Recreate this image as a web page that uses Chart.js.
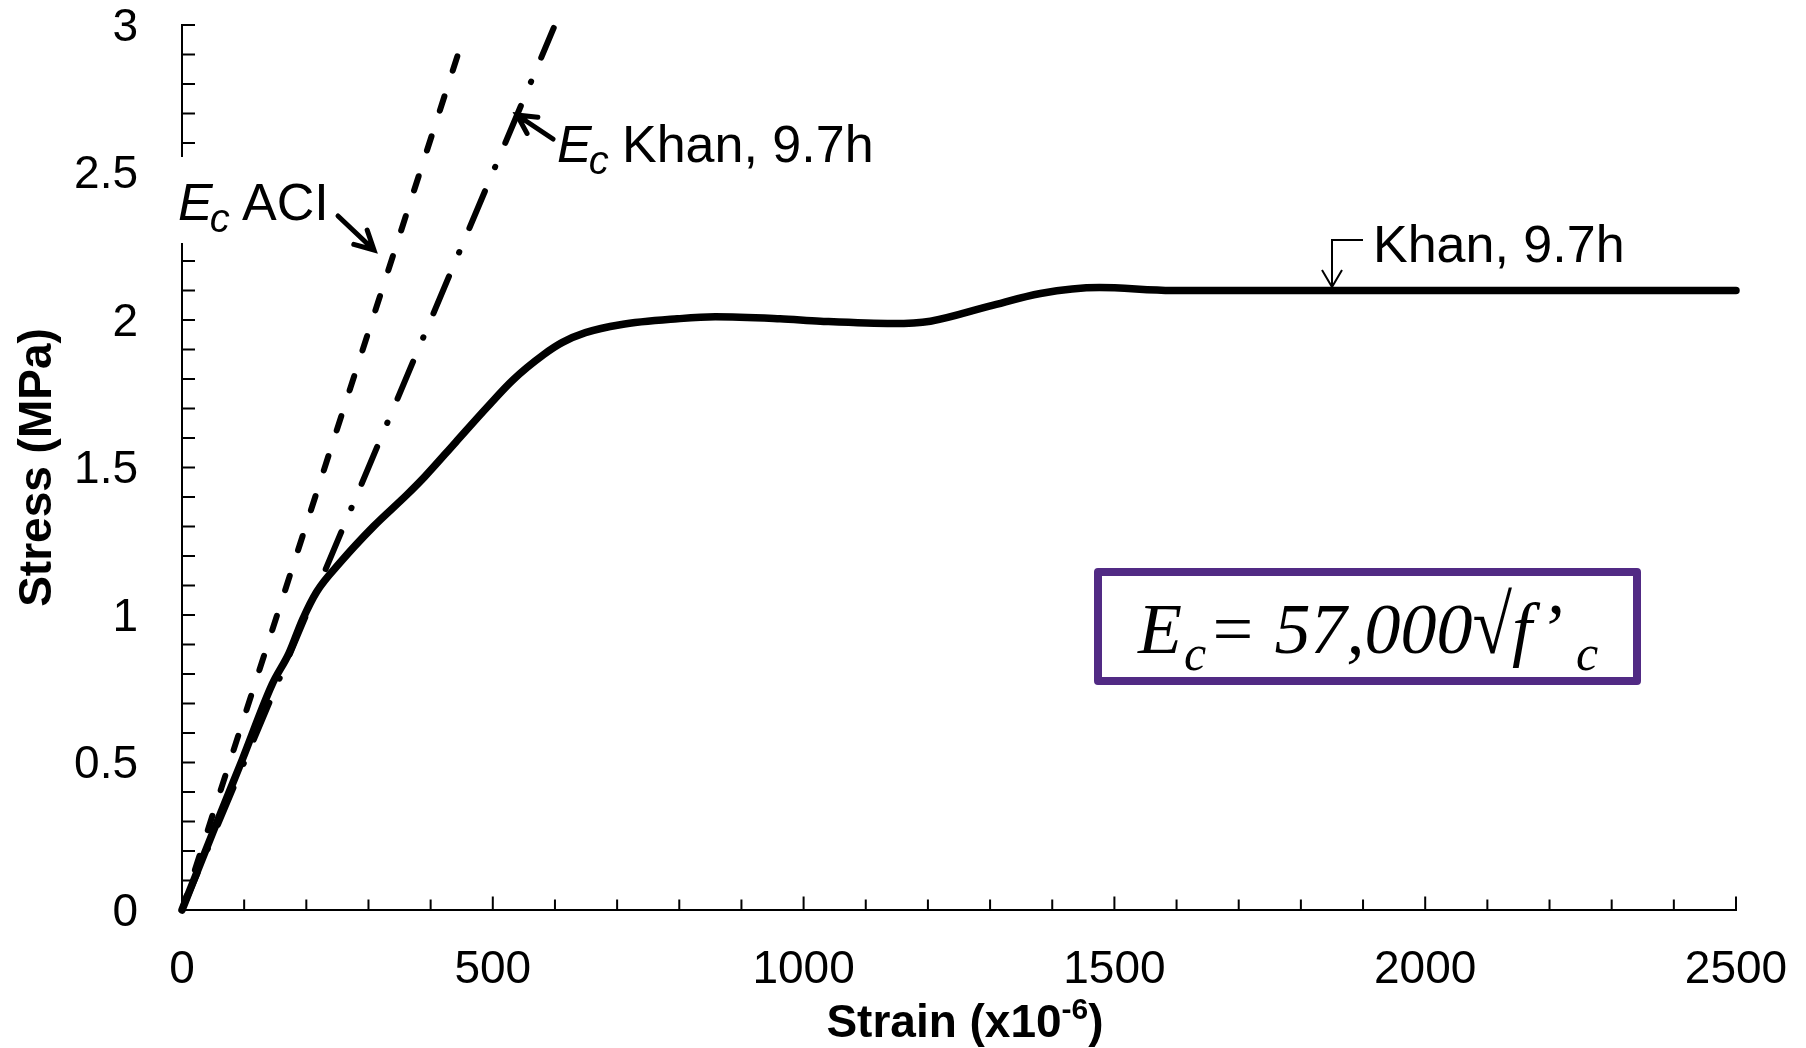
<!DOCTYPE html>
<html>
<head>
<meta charset="utf-8">
<script src="https://cdn.jsdelivr.net/npm/chart.js@4.4.1/dist/chart.umd.min.js"></script>
<style>
  html, body { margin: 0; padding: 0; background: #fff; }
  #wrap { width: 1806px; height: 1048px; position: relative; }
</style>
</head>
<body>
<div id="wrap"><canvas id="stressChart"></canvas></div>
<script>
// ================== Data ==================
const khanStrain = [0, 50, 97, 145, 172, 194, 217, 254, 308, 362, 391, 440, 489, 532, 582, 612, 649, 705, 797, 858, 962, 1027, 1144, 1204, 1299, 1381, 1476, 1593, 2500];
const khanStress = [0, 0.265, 0.51, 0.765, 0.87, 0.985, 1.08, 1.177, 1.3, 1.408, 1.47, 1.585, 1.7, 1.796, 1.883, 1.924, 1.957, 1.984, 2.004, 2.011, 2.004, 1.996, 1.988, 1.996, 2.047, 2.09, 2.11, 2.1, 2.1];

const aciStrain = [0, 450];
const aciStress = [0, 2.94];

const ecKhanStrain = [0, 598];
const ecKhanStress = [0, 2.99];

const xTickLabels = [0, 500, 1000, 1500, 2000, 2500];
const yTickLabels = [0, 0.5, 1, 1.5, 2, 2.5, 3];

const SANS = "'Liberation Sans', Arial, sans-serif";
const SERIF = "'Liberation Serif', 'Times New Roman', serif";

// ================== Helpers ==================
const toPoints = (xs, ys) => xs.map((x, i) => ({ x, y: ys[i] }));
const isLabel = (list, v) => list.some((t) => Math.abs(t - v) < 1e-6);

function arrow(ctx, fromX, fromY, tipX, tipY, barb, width) {
  const ang = Math.atan2(tipY - fromY, tipX - fromX);
  const spread = Math.PI / 6.5;
  ctx.lineWidth = width;
  ctx.beginPath();
  ctx.moveTo(fromX, fromY);
  ctx.lineTo(tipX, tipY);
  ctx.moveTo(tipX - barb * Math.cos(ang - spread), tipY - barb * Math.sin(ang - spread));
  ctx.lineTo(tipX, tipY);
  ctx.lineTo(tipX - barb * Math.cos(ang + spread), tipY - barb * Math.sin(ang + spread));
  ctx.stroke();
}

// draws "E" + subscript "c"
function ecLabel(ctx, x, baseline) {
  ctx.font = `italic 52px ${SANS}`;
  ctx.fillText("E", x, baseline);
  const w = ctx.measureText("E").width;
  ctx.font = `italic 40px ${SANS}`;
  ctx.fillText("c", x + w - 3, baseline + 12);
}

// ================== Plugins ==================
const insideTicks = {
  id: "insideTicks",
  beforeDatasetsDraw(chart) {
    const { ctx, chartArea, scales } = chart;
    ctx.save();
    ctx.strokeStyle = "#000";
    ctx.lineWidth = 2;
    ctx.beginPath();
    scales.x.ticks.forEach((t) => {
      const px = scales.x.getPixelForValue(t.value);
      const len = isLabel(xTickLabels, t.value) ? 13.5 : 10.5;
      ctx.moveTo(px, chartArea.bottom);
      ctx.lineTo(px, chartArea.bottom - len);
    });
    scales.y.ticks.forEach((t) => {
      const py = scales.y.getPixelForValue(t.value);
      ctx.moveTo(chartArea.left, py);
      ctx.lineTo(chartArea.left + 13, py);
    });
    ctx.stroke();
    ctx.restore();
  },
};

const annotations = {
  id: "annotations",
  afterDraw(chart) {
    const { ctx, chartArea } = chart;
    ctx.save();
    ctx.fillStyle = "#000";
    ctx.strokeStyle = "#000";
    ctx.textBaseline = "alphabetic";
    ctx.lineCap = "round";

    // x axis title with superscript
    const cx = (chartArea.left + chartArea.right) / 2 + 6;
    const titleBase = 1037;
    ctx.font = `bold 46px ${SANS}`;
    const main = "Strain (x10";
    const wMain = ctx.measureText(main).width;
    const wClose = ctx.measureText(")").width;
    ctx.font = `bold 30px ${SANS}`;
    const wSup = ctx.measureText("-6").width;
    const x = cx - (wMain + wSup + wClose) / 2;
    ctx.font = `bold 46px ${SANS}`;
    ctx.fillText(main, x, titleBase);
    ctx.font = `bold 30px ${SANS}`;
    ctx.fillText("-6", x + wMain, titleBase - 18);
    ctx.font = `bold 46px ${SANS}`;
    ctx.fillText(")", x + wMain + wSup, titleBase);

    // E_c ACI (white box hides the axis behind it)
    ctx.fillStyle = "#fff";
    ctx.fillRect(172, 157, 165, 86);
    ctx.fillStyle = "#000";
    ecLabel(ctx, 178, 220);
    ctx.font = `52px ${SANS}`;
    ctx.fillText("ACI", 242, 220);
    arrow(ctx, 338, 216, 374, 250, 21, 5);

    // E_c Khan, 9.7h
    ecLabel(ctx, 557, 162);
    ctx.font = `52px ${SANS}`;
    ctx.fillText("Khan, 9.7h", 622, 162);
    arrow(ctx, 553, 139, 517, 115, 21, 5);

    // Khan, 9.7h curve label
    ctx.fillText("Khan, 9.7h", 1373, 262);
    ctx.lineCap = "butt";
    ctx.lineWidth = 2;
    ctx.beginPath();
    ctx.moveTo(1363, 240);
    ctx.lineTo(1332, 240);
    ctx.lineTo(1332, 287);
    ctx.moveTo(1322, 270);
    ctx.lineTo(1332, 287);
    ctx.lineTo(1342, 270);
    ctx.stroke();

    // formula box
    ctx.fillStyle = "#fff";
    ctx.fillRect(1098, 572, 539, 109);
    ctx.strokeStyle = "#512a84";
    ctx.lineWidth = 8;
    ctx.lineJoin = "round";
    ctx.strokeRect(1098, 572, 539, 109);
    ctx.fillStyle = "#000";
    ctx.font = `italic 72px ${SERIF}`;
    ctx.fillText("E", 1138, 653);
    const eq = "= 57,000";
    ctx.fillText(eq, 1208, 653);
    let fx = 1208 + ctx.measureText(eq).width;
    ctx.save();
    ctx.translate(fx, 653);
    ctx.scale(1, 1.15);
    ctx.fillText("\u221A", 0, 0);
    ctx.restore();
    fx += ctx.measureText("\u221A").width;
    ctx.fillText("f\u2019", fx, 653);
    ctx.font = `italic 50px ${SERIF}`;
    ctx.fillText("c", 1184, 670);
    ctx.fillText("c", 1576, 670);

    ctx.restore();
  },
};

// ================== Chart ==================
const ctx = document.getElementById("stressChart").getContext("2d");
const stressChart = new Chart(ctx, {
  type: "scatter",
  data: {
    datasets: [
      {
        label: "Ec ACI",
        data: toPoints(aciStrain, aciStress),
        showLine: true,
        borderColor: "#000",
        borderWidth: 6,
        borderDash: [15, 27],
        borderCapStyle: "round",
        pointRadius: 0,
        clip: false,
      },
      {
        label: "Ec Khan, 9.7h",
        data: toPoints(ecKhanStrain, ecKhanStress),
        showLine: true,
        borderColor: "#000",
        borderWidth: 6,
        borderDash: [40, 26, 0.5, 26],
        borderCapStyle: "round",
        pointRadius: 0,
        clip: false,
      },
      {
        label: "Khan, 9.7h",
        data: toPoints(khanStrain, khanStress),
        showLine: true,
        borderColor: "#000",
        borderWidth: 7.5,
        cubicInterpolationMode: "monotone",
        borderCapStyle: "round",
        borderJoinStyle: "round",
        pointRadius: 0,
        clip: false,
      },
    ],
  },
  options: {
    responsive: true,
    maintainAspectRatio: false,
    animation: false,
    devicePixelRatio: 1,
    layout: { padding: { left: 0, top: 25, right: 70, bottom: 0 } },
    plugins: {
      legend: { display: false },
      tooltip: { enabled: false },
    },
    scales: {
      x: {
        type: "linear",
        min: 0,
        max: 2500,
        afterFit: (scale) => {
          scale.height = 138;
          scale.paddingLeft = 0;
          scale.paddingRight = 0;
        },
        ticks: {
          stepSize: 100,
          autoSkip: false,
          maxRotation: 0,
          padding: 37,
          color: "#000",
          font: { family: SANS, size: 46, lineHeight: 1 },
          callback: (v) => (isLabel(xTickLabels, v) ? String(v) : ""),
        },
        grid: { display: false, drawTicks: false },
        border: { display: true, color: "#000", width: 2 },
      },
      y: {
        type: "linear",
        min: 0,
        max: 3,
        afterFit: (scale) => {
          scale.width = 182;
          scale.paddingTop = 0;
          scale.paddingBottom = 0;
        },
        ticks: {
          stepSize: 0.1,
          autoSkip: false,
          padding: 44,
          labelOffset: 3,
          color: "#000",
          font: { family: SANS, size: 46, lineHeight: 1 },
          callback: (v) => (isLabel(yTickLabels, v) ? String(Math.round(v * 10) / 10) : ""),
        },
        grid: { display: false, drawTicks: false },
        border: { display: true, color: "#000", width: 2 },
        title: {
          display: true,
          text: "Stress (MPa)",
          color: "#000",
          font: { family: SANS, size: 46, weight: "bold", lineHeight: 1.2 },
          padding: { top: 11, bottom: 0 },
        },
      },
    },
  },
  plugins: [insideTicks, annotations],
});
</script>
</body>
</html>
